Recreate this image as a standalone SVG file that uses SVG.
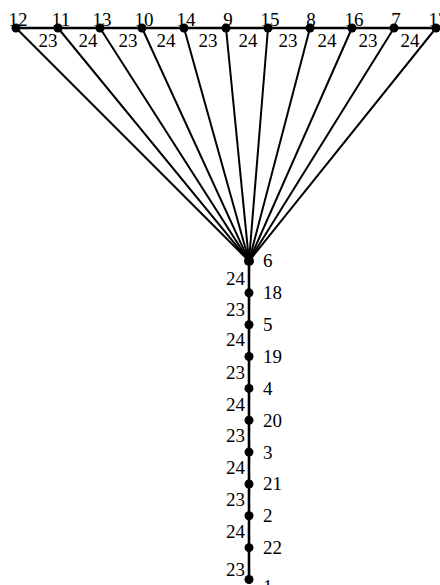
<svg xmlns="http://www.w3.org/2000/svg" width="440" height="585" viewBox="0 0 440 585">
<style>
.e{stroke:#000;stroke-width:2.6;fill:none}
.f{stroke:#000;stroke-width:2;fill:none}
.n{fill:#000}
text{font-family:"Liberation Serif","Times New Roman",serif;font-size:19px;fill:#000}
.m{text-anchor:middle}
.r{text-anchor:end}
</style>
<rect width="440" height="585" fill="#fff"/>
<g id="connectors">
<line class="e" x1="16" y1="28" x2="436" y2="28"/>
<line class="f" x1="16" y1="28" x2="249" y2="261"/>
<line class="f" x1="58" y1="28" x2="249" y2="261"/>
<line class="f" x1="100" y1="28" x2="249" y2="261"/>
<line class="f" x1="142" y1="28" x2="249" y2="261"/>
<line class="f" x1="184" y1="28" x2="249" y2="261"/>
<line class="f" x1="226" y1="28" x2="249" y2="261"/>
<line class="f" x1="268" y1="28" x2="249" y2="261"/>
<line class="f" x1="310" y1="28" x2="249" y2="261"/>
<line class="f" x1="352" y1="28" x2="249" y2="261"/>
<line class="f" x1="394" y1="28" x2="249" y2="261"/>
<line class="f" x1="436" y1="28" x2="249" y2="261"/>
<line class="e" x1="249" y1="261" x2="249" y2="579.5"/>
<text x="48" y="46.5" class="m">23</text>
<text x="88" y="46.5" class="m">24</text>
<text x="128" y="46.5" class="m">23</text>
<text x="166" y="46.5" class="m">24</text>
<text x="208" y="46.5" class="m">23</text>
<text x="248" y="46.5" class="m">24</text>
<text x="288" y="46.5" class="m">23</text>
<text x="327" y="46.5" class="m">24</text>
<text x="368" y="46.5" class="m">23</text>
<text x="410" y="46.5" class="m">24</text>
<text x="245" y="284.5" class="r">24</text>
<text x="245" y="316" class="r">23</text>
<text x="245" y="346" class="r">24</text>
<text x="245" y="378.5" class="r">23</text>
<text x="245" y="410.5" class="r">24</text>
<text x="245" y="442" class="r">23</text>
<text x="245" y="474" class="r">24</text>
<text x="245" y="506" class="r">23</text>
<text x="245" y="537.5" class="r">24</text>
<text x="245" y="576" class="r">23</text>
</g>
<g id="n12"><circle class="n" cx="16" cy="28" r="4.5"/><text x="18" y="26" class="m">12</text></g>
<g id="n11"><circle class="n" cx="58" cy="28" r="4.5"/><text x="61" y="26" class="m">11</text></g>
<g id="n13"><circle class="n" cx="100" cy="28" r="4.5"/><text x="102" y="26" class="m">13</text></g>
<g id="n10"><circle class="n" cx="142" cy="28" r="4.5"/><text x="144" y="26" class="m">10</text></g>
<g id="n14"><circle class="n" cx="184" cy="28" r="4.5"/><text x="186" y="26" class="m">14</text></g>
<g id="n9"><circle class="n" cx="226" cy="28" r="4.5"/><text x="228" y="26" class="m">9</text></g>
<g id="n15"><circle class="n" cx="268" cy="28" r="4.5"/><text x="270" y="26" class="m">15</text></g>
<g id="n8"><circle class="n" cx="310" cy="28" r="4.5"/><text x="311" y="26" class="m">8</text></g>
<g id="n16"><circle class="n" cx="352" cy="28" r="4.5"/><text x="354" y="26" class="m">16</text></g>
<g id="n7"><circle class="n" cx="394" cy="28" r="4.5"/><text x="396" y="26" class="m">7</text></g>
<g id="n17"><circle class="n" cx="436" cy="28" r="4.5"/><text x="438" y="26" class="m">17</text></g>
<g id="n6"><circle class="n" cx="249" cy="261" r="5"/><text x="263" y="267">6</text></g>
<g id="n18"><circle class="n" cx="249" cy="292.85" r="4.5"/><text x="263" y="299">18</text></g>
<g id="n5"><circle class="n" cx="249" cy="324.7" r="4.5"/><text x="263" y="331">5</text></g>
<g id="n19"><circle class="n" cx="249" cy="356.55" r="4.5"/><text x="263" y="363">19</text></g>
<g id="n4"><circle class="n" cx="249" cy="388.4" r="4.5"/><text x="263" y="395">4</text></g>
<g id="n20"><circle class="n" cx="249" cy="420.25" r="4.5"/><text x="263" y="426.5">20</text></g>
<g id="n3"><circle class="n" cx="249" cy="452.1" r="4.5"/><text x="263" y="458.5">3</text></g>
<g id="n21"><circle class="n" cx="249" cy="483.95" r="4.5"/><text x="263" y="490">21</text></g>
<g id="n2"><circle class="n" cx="249" cy="515.8" r="4.5"/><text x="263" y="522">2</text></g>
<g id="n22"><circle class="n" cx="249" cy="547.65" r="4.5"/><text x="263" y="554">22</text></g>
<g id="n1"><circle class="n" cx="249" cy="579.5" r="4.5"/><text x="263" y="593">1</text></g>
</svg>
